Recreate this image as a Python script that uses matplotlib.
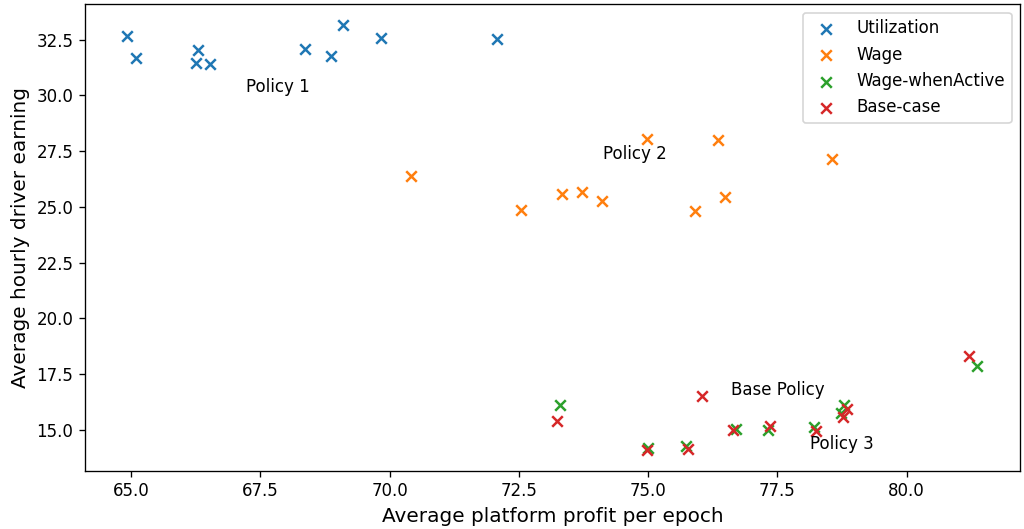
import matplotlib
matplotlib.use("Agg")
import matplotlib.pyplot as plt

util_x = [64.93, 65.10, 66.29, 66.26, 66.52, 68.37, 68.86, 69.10, 69.84, 72.07]
util_y = [32.65, 31.69, 32.02, 31.47, 31.42, 32.10, 31.77, 33.14, 32.58, 32.51]

wage_x = [74.97, 76.36, 78.55, 70.41, 73.34, 73.73, 74.11, 72.54, 75.90, 76.49]
wage_y = [28.03, 28.01, 27.17, 26.37, 25.59, 25.67, 25.26, 24.87, 24.83, 25.43]

active_x = [73.29, 74.99, 75.74, 76.71, 77.31, 78.20, 78.79, 78.74, 81.37]
active_y = [16.13, 14.18, 14.27, 15.05, 14.99, 15.14, 16.14, 15.77, 17.86]

base_x = [73.24, 74.97, 75.77, 76.65, 77.35, 78.24, 78.85, 78.77, 81.20, 76.05]
base_y = [15.41, 14.12, 14.15, 14.99, 15.20, 14.97, 15.96, 15.59, 18.31, 16.51]

labels = [("Policy 1", 67.22, 30.39), ("Policy 2", 74.13, 27.39),
          ("Base Policy", 76.61, 16.80), ("Policy 3", 78.14, 14.38)]

DPI = 120
fig = plt.figure(figsize=(1024/DPI, 529/DPI), dpi=DPI)
ax = fig.add_subplot(111)
fig.subplots_adjust(left=0.083, right=0.996, bottom=0.11, top=0.992)

ax.scatter(util_x, util_y, marker='x', s=40, label='Utilization')
ax.scatter(wage_x, wage_y, marker='x', s=40, label='Wage')
ax.scatter(active_x, active_y, marker='x', s=40, label='Wage-whenActive')
ax.scatter(base_x, base_y, marker='x', s=40, label='Base-case')

for t, x, y in labels:
    ax.text(x, y, t, ha='left', va='center', fontsize=10)

ax.set_xlabel('Average platform profit per epoch', fontsize=12)
ax.set_ylabel('Average hourly driver earning', fontsize=12)
ax.legend(loc='upper right')
fig.savefig('out.png', dpi=DPI)
